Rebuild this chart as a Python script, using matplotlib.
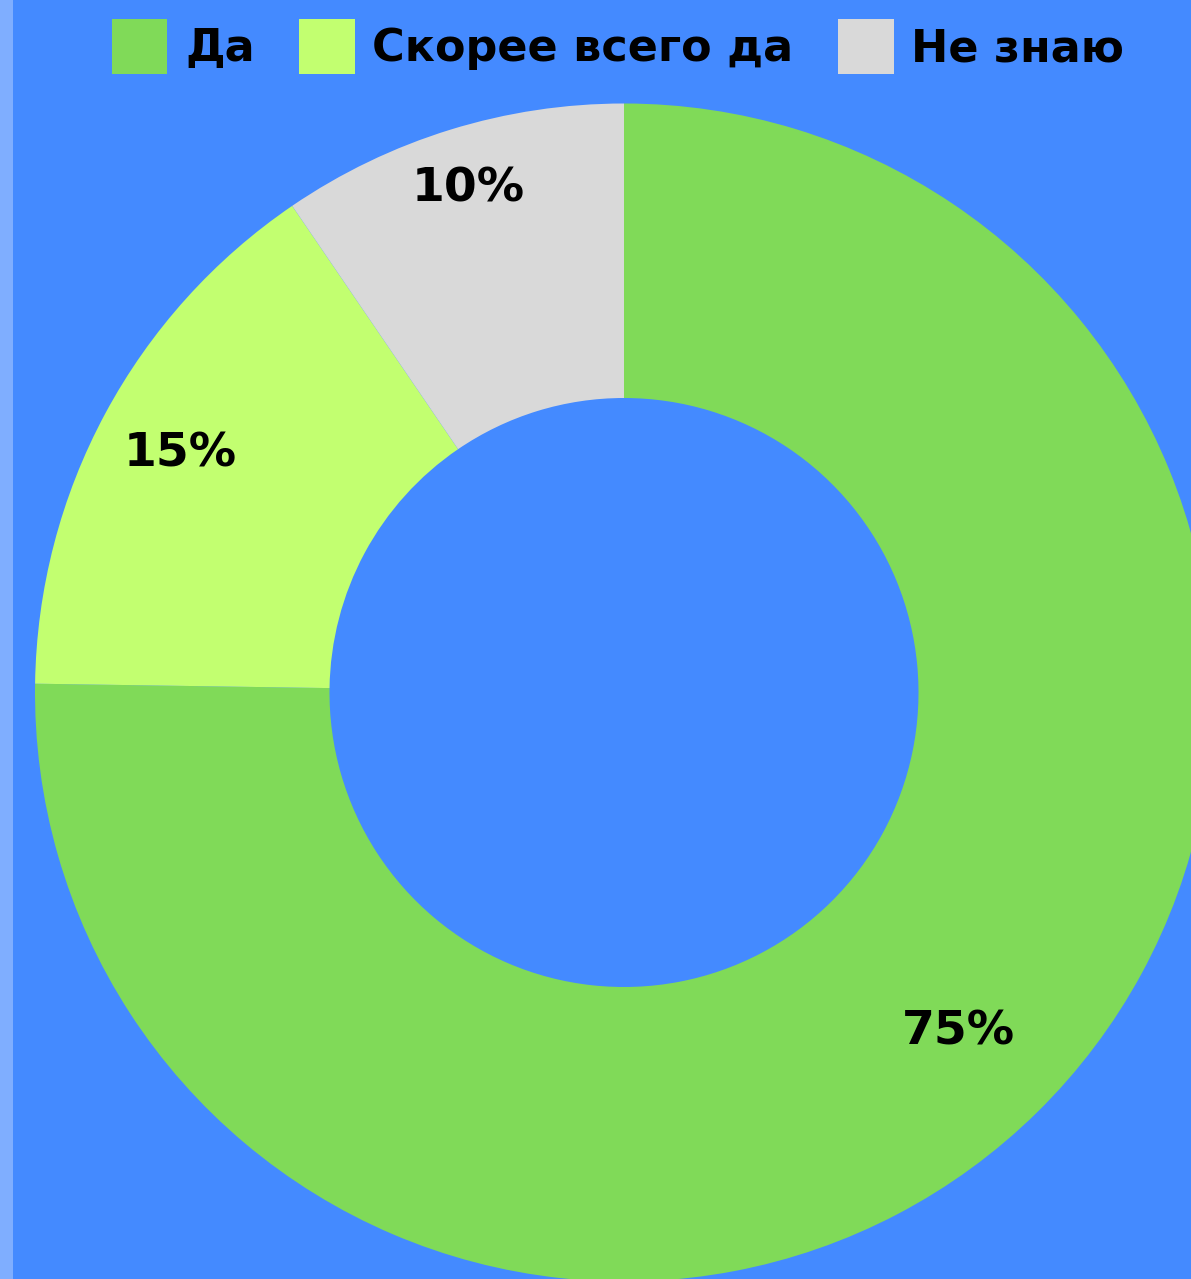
import matplotlib
matplotlib.use("Agg")
import matplotlib.pyplot as plt
from matplotlib.patches import Rectangle
import numpy as np

categories = ["Да", "Скорее всего да", "Не знаю"]
values = [79, 16, 10]
colors = ["#80DA58", "#C2FF70", "#D9D9D9"]
label_dist = [0.81, 0.856, 0.895]

W, H = 1191, 1279
fig = plt.figure(figsize=(W / 100, H / 100), dpi=100)
fig.patch.set_facecolor("#448AFF")
fig.patches.append(Rectangle((0, 0), 13 / W, 1, transform=fig.transFigure,
                             facecolor="#7FAEFF", edgecolor="none", zorder=0))

cx, cy, R = 624, 1279 - 692.5, 589
ax = fig.add_axes([(cx - R) / W, (cy - R) / H, 2 * R / W, 2 * R / H])
ax.set_facecolor("none")
ax.axis("off")

font = "DejaVu Sans"
wedges, texts, autotexts = ax.pie(
    values, colors=colors, startangle=90, counterclock=False, radius=1.0,
    wedgeprops=dict(width=0.5, linewidth=0),
    autopct=lambda p: f"{p:.0f}%", pctdistance=0.855,
    textprops=dict(fontsize=34, fontweight="bold", color="black", family=font),
)
for w, t, d in zip(wedges, autotexts, label_dist):
    ang = np.deg2rad((w.theta1 + w.theta2) / 2)
    t.set_position((d * np.cos(ang), d * np.sin(ang)))
ax.set_xlim(-1, 1)
ax.set_ylim(-1, 1)

leg = fig.legend(
    wedges, categories, loc="center", bbox_to_anchor=(618 / W, 1 - 46.5 / H),
    ncol=3, frameon=False,
    prop=dict(size=32, weight="bold", family=font),
    handlelength=1.25, handleheight=1.25, handletextpad=0.4, columnspacing=1.0,
    borderaxespad=0, borderpad=0,
)
for h in leg.legend_handles:
    h.set_height(55 * 72 / 100)
    h.set_y(h.get_y() - 3.0)

fig.savefig("out.png", dpi=100, facecolor=fig.get_facecolor())
